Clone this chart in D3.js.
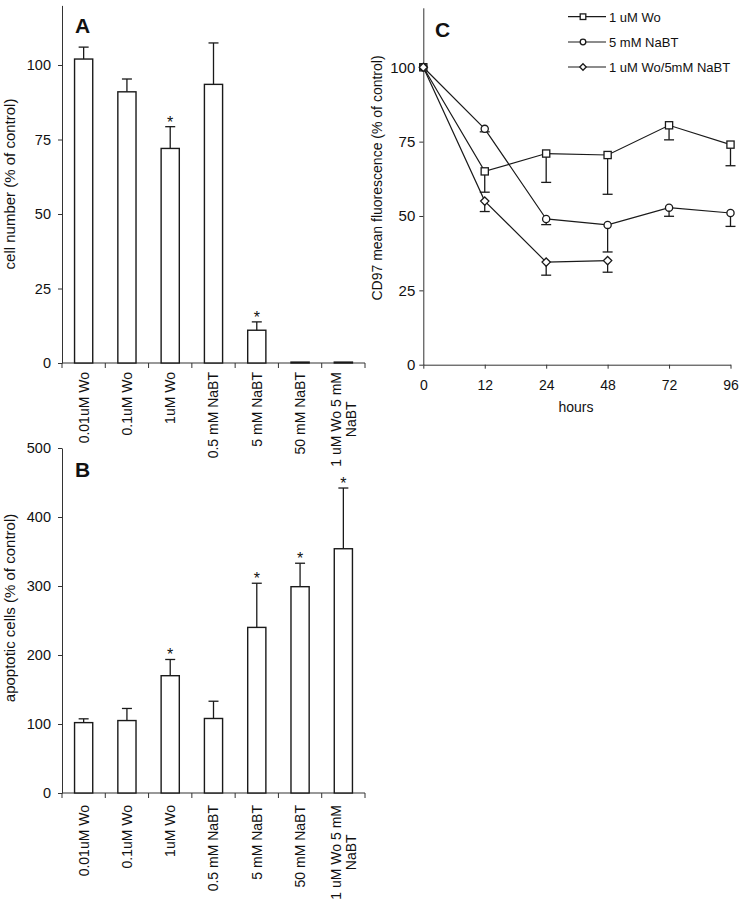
<!DOCTYPE html>
<html><head><meta charset="utf-8">
<script src="https://cdn.jsdelivr.net/npm/d3@7"></script>
<style>
body{margin:0;background:#fff}
svg{display:block}
text{font-family:Arial,"Liberation Sans",sans-serif;fill:#111}
</style>
</head><body>
<svg id="chart" width="741" height="899"></svg>
<script>
// ---- data ----
const treatments = ["0.01uM Wo","0.1uM Wo","1uM Wo","0.5 mM NaBT","5 mM NaBT","50 mM NaBT","1 uM Wo 5 mM\nNaBT"];
const cellNumber    = [102, 91, 72, 93.5, 11, 0.3, 0.3];
const cellNumberErr = [4, 4.3, 7.3, 13.9, 2.8, 0, 0];
const cellNumberSig = [false, false, true, false, true, false, false];
const apoptotic     = [102, 105, 170, 108, 240, 299, 354];
const apoptoticErr  = [5.5, 17.5, 23.5, 25, 64, 34, 88];
const apoptoticSig  = [false, false, true, false, true, true, true];
const yTicksA = [0, 25, 50, 75, 100];
const yTicksB = [0, 100, 200, 300, 400, 500];

const hours = ["0", "12", "24", "48", "72", "96"];
const seriesNames = ["1 uM Wo", "5 mM NaBT", "1 uM Wo/5mM NaBT"];
const woMean     = [100, 65, 71, 70.5, 80.5, 74];
const woErr      = [0, 7, 9.7, 13.2, 4.9, 7.1];
const nabtMean   = [100, 79.3, 49, 47, 52.8, 51];
const nabtErr    = [0, 1, 1.9, 9.1, 2.9, 4.5];
const comboMean  = [100, 55, 34.5, 35, null, null];
const comboErr   = [0, 3.5, 4.4, 3.9, null, null];
const yTicksC = [0, 25, 50, 75, 100];

// ---- drawing ----
const svg = d3.select("#chart");
const INK = "#1a1a1a";

function styleAxis(g, fs) {
  g.attr("font-family", 'Arial,"Liberation Sans",sans-serif').attr("font-size", fs);
  g.selectAll("path,line").attr("stroke", "#333").attr("stroke-width", 1);
  g.selectAll("text").attr("fill", INK);
}

function barPanel(opts) {
  const {values, errs, sig, yMax, yTicks, x0, x1, yBase, yTop, letter, letterY, ylabel, ylabelCenter, labelGap} = opts;
  const g = svg.append("g");
  const x = d3.scaleBand().domain(treatments).range([x0, x1]).paddingInner(0.58).paddingOuter(0.29);
  const y = d3.scaleLinear().domain([0, yMax]).range([yBase, yTop]);

  // y axis
  const ya = g.append("g").attr("transform", `translate(${x0},0)`)
    .call(d3.axisLeft(y).tickValues(yTicks).tickSize(4).tickPadding(7).tickSizeOuter(0));
  styleAxis(ya, 14.5);

  // x axis line + boundary ticks
  g.append("line").attr("x1", x0).attr("x2", x1).attr("y1", yBase).attr("y2", yBase)
    .attr("stroke", "#333").attr("stroke-width", 1);
  const step = x.step();
  d3.range(treatments.length + 1).forEach(i => {
    const bx = x0 + i * step;
    g.append("line").attr("x1", bx).attr("x2", bx).attr("y1", yBase).attr("y2", yBase + 5)
      .attr("stroke", "#333").attr("stroke-width", 1);
  });

  // bars
  g.selectAll("rect.bar").data(treatments).join("rect").attr("class", "bar")
    .attr("x", d => x(d)).attr("width", x.bandwidth())
    .attr("y", (d, i) => y(values[i])).attr("height", (d, i) => yBase - y(values[i]))
    .attr("fill", "#fff").attr("stroke", INK).attr("stroke-width", 1.4);

  // error bars (upward)
  treatments.forEach((d, i) => {
    if (!errs[i]) return;
    const cx = x(d) + x.bandwidth() / 2;
    const yt = y(values[i] + errs[i]);
    g.append("line").attr("x1", cx).attr("x2", cx).attr("y1", y(values[i])).attr("y2", yt)
      .attr("stroke", INK).attr("stroke-width", 1.3);
    g.append("line").attr("x1", cx - 5).attr("x2", cx + 5).attr("y1", yt).attr("y2", yt)
      .attr("stroke", INK).attr("stroke-width", 1.3);
    if (sig[i]) {
      g.append("text").attr("x", cx).attr("y", yt + 1).attr("text-anchor", "middle")
        .attr("font-size", 16).text("*");
    }
  });

  // category labels (rotated)
  treatments.forEach(d => {
    const cx = x(d) + x.bandwidth() / 2;
    const lines = d.split("\n");
    const lg = g.append("g").attr("transform", `translate(${cx},${yBase + labelGap}) rotate(-90)`);
    if (lines.length === 1) {
      lg.append("text").attr("x", 0).attr("y", 0).attr("dy", "0.35em")
        .attr("text-anchor", "end").attr("font-size", 14).text(d);
    } else {
      const lh = 15;
      const texts = lines.map((t, k) => lg.append("text")
        .attr("y", (k - (lines.length - 1) / 2) * lh).attr("dy", "0.35em")
        .attr("text-anchor", "middle").attr("font-size", 14).text(t));
      const maxW = d3.max(texts, t => t.node().getComputedTextLength());
      texts.forEach(t => t.attr("x", -maxW / 2));
    }
  });

  // panel letter
  g.append("text").attr("x", x0 + 13).attr("y", letterY).attr("font-size", 21)
    .attr("font-weight", "bold").text(letter);

  // y label
  g.append("text").attr("transform", `translate(15,${ylabelCenter}) rotate(-90)`)
    .attr("text-anchor", "middle").attr("font-size", 15).text(ylabel);
}

barPanel({values: cellNumber, errs: cellNumberErr, sig: cellNumberSig, yMax: 120, yTicks: yTicksA,
  x0: 62, x1: 365, yBase: 363, yTop: 5.4, letter: "A", letterY: 33,
  ylabel: "cell number (% of control)", ylabelCenter: 184, labelGap: 9});

barPanel({values: apoptotic, errs: apoptoticErr, sig: apoptoticSig, yMax: 500, yTicks: yTicksB,
  x0: 62, x1: 365, yBase: 793, yTop: 448, letter: "B", letterY: 477,
  ylabel: "apoptotic cells (% of control)", ylabelCenter: 608, labelGap: 12});

// ---- panel C ----
(function () {
  const g = svg.append("g");
  const x0 = 423.3, x1 = 730.5, yBase = 364.7;
  const x = d3.scalePoint().domain(hours).range([x0, x1]);
  const y = d3.scaleLinear().domain([0, 120]).range([yBase, 7.8]);

  const ya = g.append("g").attr("transform", `translate(${x0},0)`)
    .call(d3.axisLeft(y).tickValues(yTicksC).tickSize(4).tickPadding(4).tickSizeOuter(0));
  styleAxis(ya, 15);
  const xa = g.append("g").attr("transform", `translate(0,${yBase})`)
    .call(d3.axisBottom(x).tickSize(4).tickPadding(11).tickSizeOuter(0));
  styleAxis(xa, 14);

  g.append("text").attr("x", 576).attr("y", 412).attr("text-anchor", "middle")
    .attr("font-size", 14).text("hours");
  g.append("text").attr("transform", `translate(382,178) rotate(-90)`)
    .attr("text-anchor", "middle").attr("font-size", 14)
    .text("CD97 mean fluorescence (% of control)");
  g.append("text").attr("x", 435).attr("y", 36.5).attr("font-size", 21)
    .attr("font-weight", "bold").text("C");

  const series = [
    {name: seriesNames[0], mean: woMean, err: woErr, shape: "square"},
    {name: seriesNames[1], mean: nabtMean, err: nabtErr, shape: "circle"},
    {name: seriesNames[2], mean: comboMean, err: comboErr, shape: "diamond"}
  ];

  function marker(sel, shape, cx, cy, s) {
    if (shape === "square") {
      sel.append("rect").attr("x", cx - s).attr("y", cy - s).attr("width", 2 * s).attr("height", 2 * s)
        .attr("fill", "#fff").attr("stroke", INK).attr("stroke-width", 1.3);
    } else if (shape === "circle") {
      sel.append("circle").attr("cx", cx).attr("cy", cy).attr("r", s)
        .attr("fill", "#fff").attr("stroke", INK).attr("stroke-width", 1.3);
    } else {
      const d = s * 1.15;
      sel.append("path").attr("d", `M${cx},${cy - d}L${cx + d},${cy}L${cx},${cy + d}L${cx - d},${cy}Z`)
        .attr("fill", "#fff").attr("stroke", INK).attr("stroke-width", 1.3);
    }
  }

  const line = d3.line().defined(d => d.v != null).x(d => x(d.h)).y(d => y(d.v));

  // lines first
  series.forEach(s => {
    const pts = hours.map((h, i) => ({h, v: s.mean[i]}));
    g.append("path").attr("d", line(pts)).attr("fill", "none")
      .attr("stroke", INK).attr("stroke-width", 1.2);
  });
  // error bars (downward)
  series.forEach(s => {
    hours.forEach((h, i) => {
      const v = s.mean[i], e = s.err[i];
      if (v == null || !e) return;
      const cx = x(h), yb = y(v - e);
      g.append("line").attr("x1", cx).attr("x2", cx).attr("y1", y(v)).attr("y2", yb)
        .attr("stroke", INK).attr("stroke-width", 1.3);
      g.append("line").attr("x1", cx - 5).attr("x2", cx + 5).attr("y1", yb).attr("y2", yb)
        .attr("stroke", INK).attr("stroke-width", 1.3);
    });
  });
  // markers
  series.forEach(s => {
    hours.forEach((h, i) => {
      const v = s.mean[i];
      if (v == null) return;
      marker(g, s.shape, x(h), y(v), s.shape === "circle" ? 3.6 : 3.6);
    });
  });

  // legend
  const rows = [16.7, 42, 67];
  series.forEach((s, k) => {
    const ly = rows[k];
    g.append("line").attr("x1", 568).attr("x2", 606).attr("y1", ly).attr("y2", ly)
      .attr("stroke", INK).attr("stroke-width", 1.2);
    marker(g, s.shape, 583, ly, 2.8);
    g.append("text").attr("x", 609).attr("y", ly + 5).attr("font-size", 13).text(s.name);
  });
})();
</script>
</body></html>
